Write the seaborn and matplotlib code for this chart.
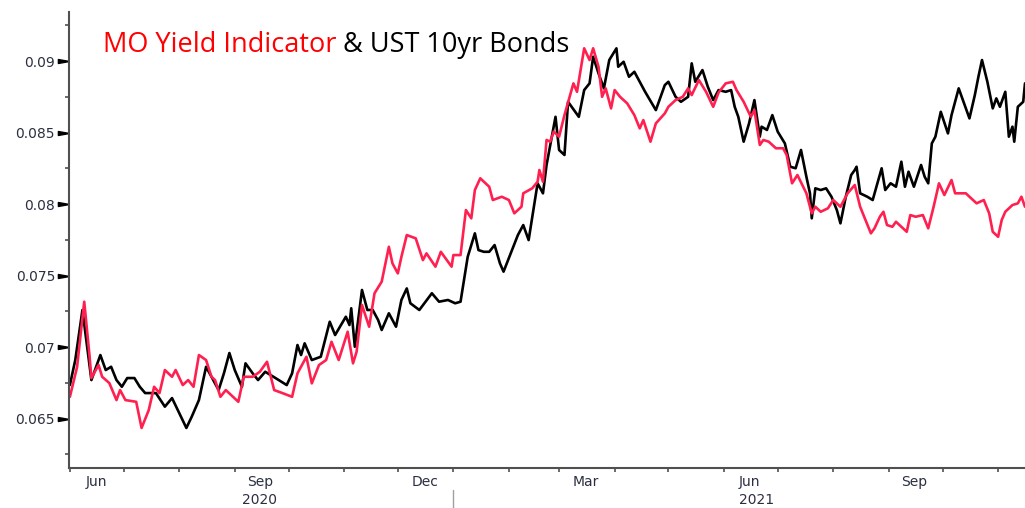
import numpy as np
import pandas as pd
from matplotlib import pyplot as plt
from matplotlib.path import Path
import matplotlib.transforms as mtransforms
import seaborn as sns

# data: days since 2020-06-01 and yield values
mo_days = [0, 4, 8, 11, 12, 16, 18, 22, 26, 28, 31, 37, 40, 44, 47, 50, 53, 57, 59, 63,
           66, 69, 72, 76, 79, 81, 84, 87, 91, 94, 97, 102, 106, 110, 114, 119, 124, 127, 132, 135,
           139, 143, 146, 150, 155, 158, 160, 163, 167, 170, 174, 178, 180, 183, 185, 188, 193, 197, 199, 204,
           207, 213, 214, 218, 221, 224, 226, 229, 234, 236, 241, 245, 248, 252, 253, 258, 261, 262, 264, 266,
           268, 270, 273, 276, 281, 283, 287, 290, 292, 295, 297, 299, 302, 304, 307, 311, 315, 318, 320, 324,
           327, 332, 334, 338, 342, 345, 347, 351, 355, 359, 362, 366, 370, 372, 376, 380, 382, 385, 387, 390,
           394, 398, 400, 403, 406, 411, 414, 416, 419, 423, 426, 430, 434, 438, 441, 444, 447, 449, 452, 454,
           456, 459, 461, 465, 467, 469, 472, 476, 479, 482, 485, 488, 492, 494, 500, 502, 506, 510, 513, 515,
           518, 520, 522, 526, 529, 531, 533]
mo_yield = [0.06652, 0.06860, 0.07317, 0.06932, 0.06783, 0.06874, 0.06792, 0.06748, 0.06629, 0.06699,
            0.06629, 0.06617, 0.06434, 0.06559, 0.06722, 0.06678, 0.06839, 0.06792, 0.06839, 0.06734,
            0.06769, 0.06722, 0.06944, 0.06909, 0.06792, 0.06769, 0.06652, 0.06699, 0.06652, 0.06617,
            0.06792, 0.06792, 0.06827, 0.06897, 0.06699, 0.06676, 0.06652, 0.06816, 0.06932, 0.06746,
            0.06874, 0.06909, 0.07037, 0.06909, 0.07107, 0.06886, 0.06967, 0.07294, 0.07142, 0.07376,
            0.07457, 0.07701, 0.07585, 0.07515, 0.07631, 0.07783, 0.07760, 0.07608, 0.07655, 0.07562,
            0.07666, 0.07562, 0.07643, 0.07643, 0.07958, 0.07900, 0.08098, 0.08180, 0.08121, 0.08028,
            0.08051, 0.08028, 0.07935, 0.07981, 0.08075, 0.08110, 0.08156, 0.08238, 0.08156, 0.08448,
            0.08436, 0.08506, 0.08471, 0.08622, 0.08844, 0.08785, 0.09089, 0.09007, 0.09089, 0.08960,
            0.08750, 0.08809, 0.08669, 0.08797, 0.08750, 0.08704, 0.08622, 0.08529, 0.08587, 0.08436,
            0.08564, 0.08634, 0.08680, 0.08727, 0.08750, 0.08809, 0.08762, 0.08867, 0.08785, 0.08680,
            0.08780, 0.08844, 0.08855, 0.08797, 0.08715, 0.08610, 0.08657, 0.08413, 0.08448, 0.08436,
            0.08390, 0.08390, 0.08343, 0.08145, 0.08203, 0.08075, 0.07935, 0.07981, 0.07946, 0.07970,
            0.08028, 0.07981, 0.08075, 0.08133, 0.07981, 0.07888, 0.07795, 0.07830, 0.07911, 0.07946,
            0.07853, 0.07841, 0.07876, 0.07830, 0.07806, 0.07923, 0.07911, 0.07923, 0.07830, 0.07981,
            0.08145, 0.08063, 0.08168, 0.08075, 0.08075, 0.08051, 0.08005, 0.08028, 0.07935, 0.07806,
            0.07771, 0.07888, 0.07946, 0.07993, 0.08005, 0.08051, 0.07981]

ust_days = [0, 3, 7, 12, 17, 20, 23, 26, 29, 32, 36, 39, 42, 48, 53, 57, 61, 65, 68, 72,
            76, 79, 83, 86, 89, 92, 96, 98, 102, 105, 109, 115, 121, 124, 127, 129, 131, 135, 140, 145,
            148, 154, 156, 157, 159, 163, 166, 169, 172, 174, 178, 182, 185, 188, 190, 195, 202, 206, 211, 215,
            218, 222, 226, 228, 231, 234, 237, 240, 242, 246, 250, 253, 256, 261, 264, 266, 271, 273, 276, 278,
            280, 284, 287, 290, 292, 295, 298, 301, 305, 306, 309, 312, 315, 319, 321, 327, 332, 334, 338, 341,
            345, 347, 349, 353, 356, 359, 362, 366, 369, 371, 373, 376, 379, 382, 385, 386, 389, 392, 395, 399,
            402, 405, 408, 411, 413, 414, 416, 419, 422, 425, 428, 430, 433, 436, 438, 439, 441, 445, 448, 453,
            455, 458, 461, 464, 466, 468, 471, 475, 477, 479, 481, 483, 486, 490, 492, 496, 502, 505, 507, 509,
            512, 515, 517, 519, 522, 524, 526, 527, 529, 532, 533]
ust_yield = [0.06734, 0.06909, 0.07259, 0.06769, 0.06944, 0.06839, 0.06862, 0.06769, 0.06722, 0.06783,
             0.06783, 0.06722, 0.06678, 0.06678, 0.06583, 0.06643, 0.06538, 0.06434, 0.06513, 0.06629,
             0.06862, 0.06792, 0.06699, 0.06818, 0.06958, 0.06839, 0.06722, 0.06886, 0.06816, 0.06769,
             0.06827, 0.06781, 0.06734, 0.06816, 0.07014, 0.06944, 0.07026, 0.06909, 0.06932, 0.07177,
             0.07084, 0.07212, 0.07154, 0.07271, 0.07002, 0.07399, 0.07259, 0.07259, 0.07189, 0.07119,
             0.07236, 0.07142, 0.07329, 0.07410, 0.07306, 0.07259, 0.07376, 0.07317, 0.07329, 0.07306,
             0.07317, 0.07631, 0.07795, 0.07678, 0.07666, 0.07666, 0.07713, 0.07585, 0.07527, 0.07655,
             0.07783, 0.07853, 0.07748, 0.08145, 0.08075, 0.08273, 0.08610, 0.08378, 0.08343, 0.08715,
             0.08680, 0.08610, 0.08797, 0.08844, 0.09030, 0.08914, 0.08809, 0.09007, 0.09089, 0.08960,
             0.08995, 0.08890, 0.08925, 0.08832, 0.08785, 0.08657, 0.08832, 0.08855, 0.08750, 0.08715,
             0.08750, 0.08984, 0.08855, 0.08937, 0.08820, 0.08727, 0.08797, 0.08785, 0.08797, 0.08680,
             0.08610, 0.08436, 0.08564, 0.08727, 0.08471, 0.08541, 0.08518, 0.08622, 0.08506, 0.08424,
             0.08261, 0.08250, 0.08378, 0.08191, 0.08075, 0.07900, 0.08110, 0.08098, 0.08110, 0.08051,
             0.07958, 0.07865, 0.08051, 0.08203, 0.08238, 0.08261, 0.08075, 0.08051, 0.08028, 0.08250,
             0.08098, 0.08145, 0.08121, 0.08296, 0.08121, 0.08226, 0.08121, 0.08273, 0.08191, 0.08145,
             0.08424, 0.08471, 0.08645, 0.08494, 0.08622, 0.08809, 0.08599, 0.08762, 0.08890, 0.09007,
             0.08855, 0.08669, 0.08739, 0.08680, 0.08785, 0.08471, 0.08541, 0.08436, 0.08680, 0.08715,
             0.08844]

start = pd.Timestamp("2020-06-01")
mo = pd.DataFrame({"date": start + pd.to_timedelta(mo_days, unit="D"), "value": mo_yield})
ust = pd.DataFrame({"date": start + pd.to_timedelta(ust_days, unit="D"), "value": ust_yield})

month_labels = ["Jun", "Sep", "Dec", "Mar", "Jun", "Sep"]
month_label_dates = ["2020-06-16", "2020-09-15", "2020-12-16", "2021-03-16", "2021-06-15", "2021-09-15"]
year_labels = ["2020", "2021"]
year_label_dates = ["2020-09-15", "2021-06-19"]

sns.set_style("white")
plt.rcParams["font.family"] = ["DejaVu Sans"]

fig = plt.figure(figsize=(10.25, 5.08), dpi=100)
ax = fig.add_axes([69 / 1025, 1 - 468 / 508, 1 - 69 / 1025, (468 - 12) / 508])

sns.lineplot(data=ust, x="date", y="value", color="black", lw=1.9, ax=ax)
sns.lineplot(data=mo, x="date", y="value", color="#ff2050", lw=1.9, ax=ax)

ax.set_xlim(pd.Timestamp("2020-05-31 12:00"), pd.Timestamp("2021-11-16"))
ax.set_ylim(0.06154, 0.09343)
ax.set_xlabel("")
ax.set_ylabel("")

for s in ["top", "right"]:
    ax.spines[s].set_visible(False)
for s in ["left", "bottom"]:
    ax.spines[s].set_color("#505050")
    ax.spines[s].set_linewidth(1.5)

# y axis: labelled majors with caret markers, small minors between
yt = [0.065, 0.07, 0.075, 0.08, 0.085, 0.09]
ax.set_yticks(yt)
ax.set_yticklabels([f"{v:g}" for v in yt])
ax.set_yticks([0.0625, 0.0675, 0.0725, 0.0775, 0.0825, 0.0875, 0.0925], minor=True)
ax.tick_params(axis="y", which="major", length=0, pad=10, labelsize=10, labelcolor="#2b3040")
ax.tick_params(axis="y", which="minor", length=3, width=1.2, color="#505050", left=True)
caret = Path([(0, 0), (-1, 0.18), (-1, -0.18), (0, 0)])
trans = mtransforms.blended_transform_factory(ax.transAxes, ax.transData)
ax.plot([0] * len(yt), yt, ls="none", marker=caret, ms=16, color="black",
        transform=trans, clip_on=False)

# x axis: month ticks, quarterly labels centred in the month
month_starts = pd.date_range("2020-06-01", "2021-11-01", freq="MS")
ax.set_xticks(month_starts)
ax.set_xticklabels([])
ax.tick_params(axis="x", which="major", length=3, width=1.2, color="#505050", bottom=True)
ax.set_xticks(pd.to_datetime(month_label_dates), minor=True)
ax.set_xticklabels(month_labels, minor=True)
ax.tick_params(axis="x", which="minor", length=0, pad=5, labelsize=10, labelcolor="#2b3040")

for lab, d in zip(year_labels, year_label_dates):
    ax.annotate(lab, xy=(pd.Timestamp(d), 0), xycoords=("data", "axes fraction"),
                xytext=(0, -18), textcoords="offset points", ha="center", va="top",
                fontsize=10, color="#2b3040", annotation_clip=False)
ax.plot([pd.Timestamp("2021-01-01")] * 2, [-0.048, -0.09], color="#a0a0a0", lw=1,
        transform=mtransforms.blended_transform_factory(ax.transData, ax.transAxes), clip_on=False)

# two-colour title
t1 = fig.text(103 / 1025, 1 - 52 / 508, "MO Yield Indicator", color="#ff0000",
              fontsize=19.5, family=["Open Sans", "DejaVu Sans"], va="baseline")
fig.canvas.draw()
bb = t1.get_window_extent()
x2 = fig.transFigure.inverted().transform((bb.x1, bb.y0))[0]
fig.text(x2, 1 - 52 / 508, " & UST 10yr Bonds", color="black",
         fontsize=19.5, family=["Open Sans", "DejaVu Sans"], va="baseline")

fig.savefig("out.png", dpi=100)
